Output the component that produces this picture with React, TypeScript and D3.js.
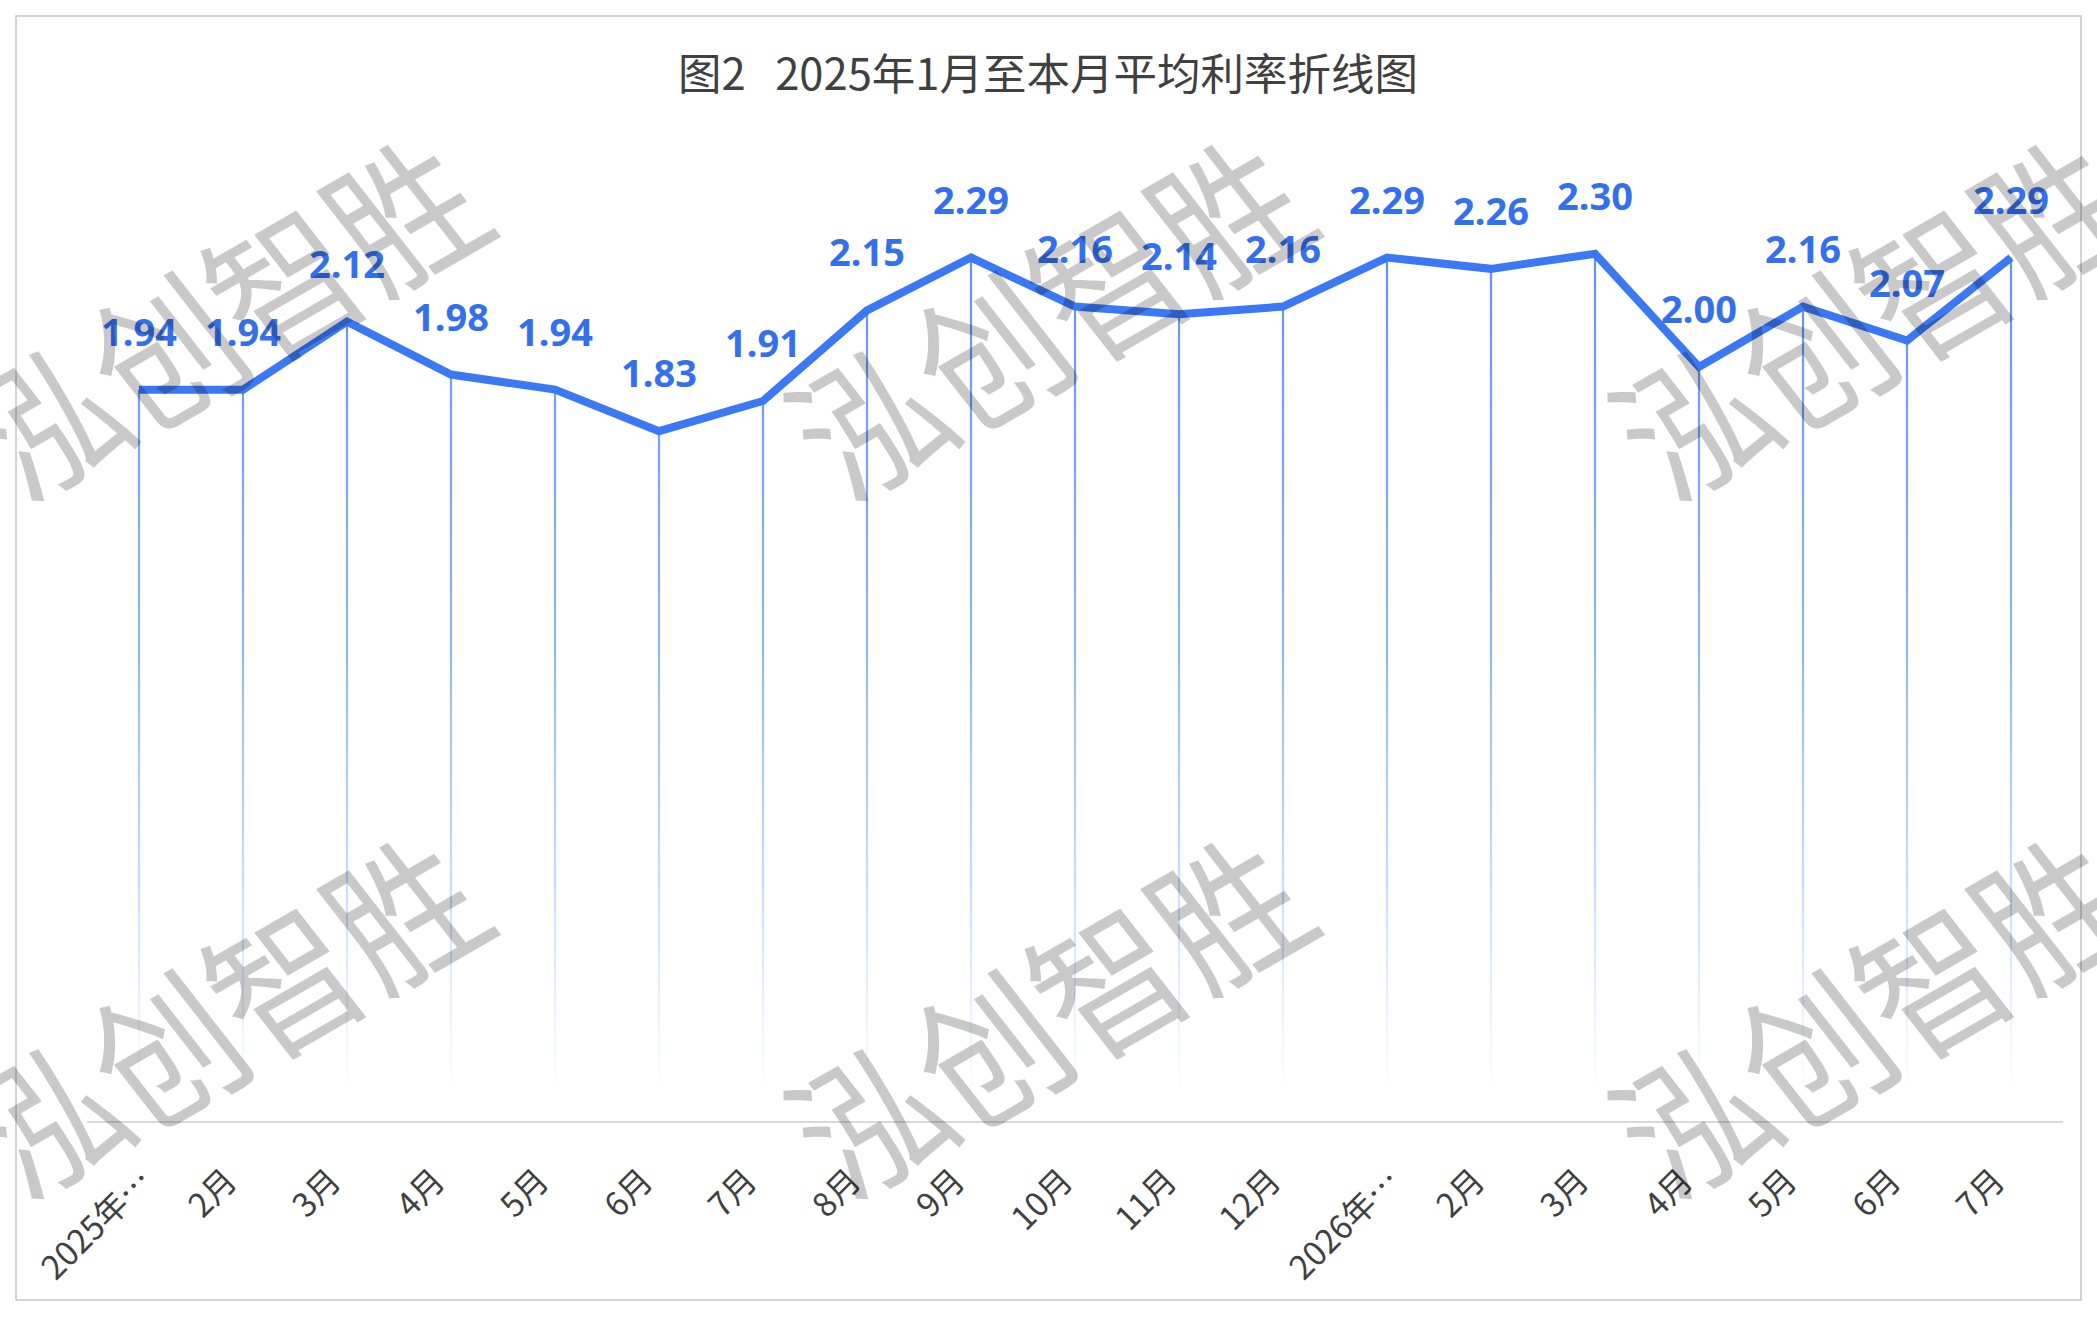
import * as d3 from "d3";

// ---------------------------------------------------------------------------
// Data
// ---------------------------------------------------------------------------

const MONTHS = [
  "2025年1月", "2月", "3月", "4月", "5月", "6月", "7月", "8月", "9月",
  "10月", "11月", "12月", "2026年1月", "2月", "3月", "4月", "5月", "6月", "7月",
];

const RATES = [
  1.94, 1.94, 2.12, 1.98, 1.94, 1.83, 1.91, 2.15, 2.29,
  2.16, 2.14, 2.16, 2.29, 2.26, 2.30, 2.00, 2.16, 2.07, 2.29,
];

const TITLE = "图2  2025年1月至本月平均利率折线图";
const WATERMARK = "泓创智胜";

// ---------------------------------------------------------------------------
// Layout
// ---------------------------------------------------------------------------

const W = 2097;
const H = 1317;
const AXIS_Y = 1122;
const BLUE = "#3a78f5";
const CJK = "'Noto Sans CJK SC', 'Noto Sans', sans-serif";
const TICK_FS = 33;

// long category names are cut like Excel does
function shortLabel(s: string): string {
  return s.length > 5 ? s.slice(0, 5) + "…" : s;
}

// rough text length, used to shift long rotated labels to the right
function approxWidth(s: string, fs: number): number {
  let w = 0;
  for (const ch of s) w += /[0-9]/.test(ch) ? 0.55 : 1;
  return w * fs;
}

export default function App() {
  const keys = MONTHS.map((_m, i) => `${i}`);
  const x = d3.scaleBand<string>().domain(keys).range([87, 2063]);
  const y = d3.scaleLinear().domain([0, 2.5]).range([AXIS_Y, AXIS_Y - 2.5 * 377.5]);
  const cx = (i: number) => (x(`${i}`) ?? 0) + x.bandwidth() / 2;

  const line = d3
    .line<number>()
    .x((_d, i) => cx(i))
    .y((d) => y(d));

  // watermark grid: 3 columns x 2 rows
  const wmX = [220, 1044, 1868];
  const wmY = [312, 1010];

  return (
    <svg
      width={W}
      height={H}
      style={{ position: "absolute", left: 0, top: 0, display: "block" }}
    >
      <defs>
        <linearGradient id="drop" gradientUnits="userSpaceOnUse" x1={0} y1={200} x2={0} y2={1095}>
          <stop offset="0" stopColor={BLUE} stopOpacity={0.85} />
          <stop offset="0.5" stopColor={BLUE} stopOpacity={0.55} />
          <stop offset="1" stopColor={BLUE} stopOpacity={0} />
        </linearGradient>
      </defs>

      <rect x={0} y={0} width={W} height={H} fill="#fff" />
      <rect x={16} y={16} width={2065} height={1284} fill="#fff" stroke="#c6c6c6" strokeWidth={1.5} />

      {/* title */}
      <text
        x={1048}
        y={71}
        textAnchor="middle"
        dominantBaseline="central"
        fontFamily={CJK}
        fontSize={43.5}
        wordSpacing={5}
        fill="#404040"
        style={{ whiteSpace: "pre" }}
      >
        {TITLE}
      </text>

      {/* category axis */}
      <line x1={87} x2={2063} y1={AXIS_Y} y2={AXIS_Y} stroke="#d9d9d9" strokeWidth={2} />

      {/* drop lines */}
      {RATES.map((v, i) => (
        <line
          key={`d${i}`}
          x1={cx(i)}
          x2={cx(i)}
          y1={y(v)}
          y2={AXIS_Y}
          stroke="url(#drop)"
          strokeWidth={2.2}
        />
      ))}

      {/* series */}
      <path d={line(RATES) ?? ""} fill="none" stroke={BLUE} strokeWidth={8} strokeLinejoin="miter" />

      {/* data labels */}
      {RATES.map((v, i) => (
        <text
          key={`l${i}`}
          x={cx(i)}
          y={y(v) - 44}
          textAnchor="middle"
          fontFamily="'Noto Sans', sans-serif"
          fontWeight={700}
          fontSize={38}
          fill="#3570ec"
        >
          {v.toFixed(2)}
        </text>
      ))}

      {/* tick labels */}
      {MONTHS.map((m, i) => {
        const t = shortLabel(m);
        const shift = 0.22 * (approxWidth(t, TICK_FS) - 51);
        return (
          <text
            key={`t${i}`}
            transform={`translate(${cx(i) - 14 + shift},1173) rotate(-45)`}
            textAnchor="end"
            dominantBaseline="central"
            fontFamily={CJK}
            fontSize={TICK_FS}
            fill="#404040"
          >
            {t}
          </text>
        );
      })}

      {/* watermark on top */}
      {wmY.map((wy) =>
        wmX.map((wx) => (
          <text
            key={`w${wx}-${wy}`}
            transform={`translate(${wx},${wy}) rotate(-30) skewX(8) scale(1,1.12)`}
            textAnchor="middle"
            dominantBaseline="central"
            fontFamily={CJK}
            fontSize={138}
            fill="#000"
            fillOpacity={0.21}
          >
            {WATERMARK}
          </text>
        ))
      )}
    </svg>
  );
}
